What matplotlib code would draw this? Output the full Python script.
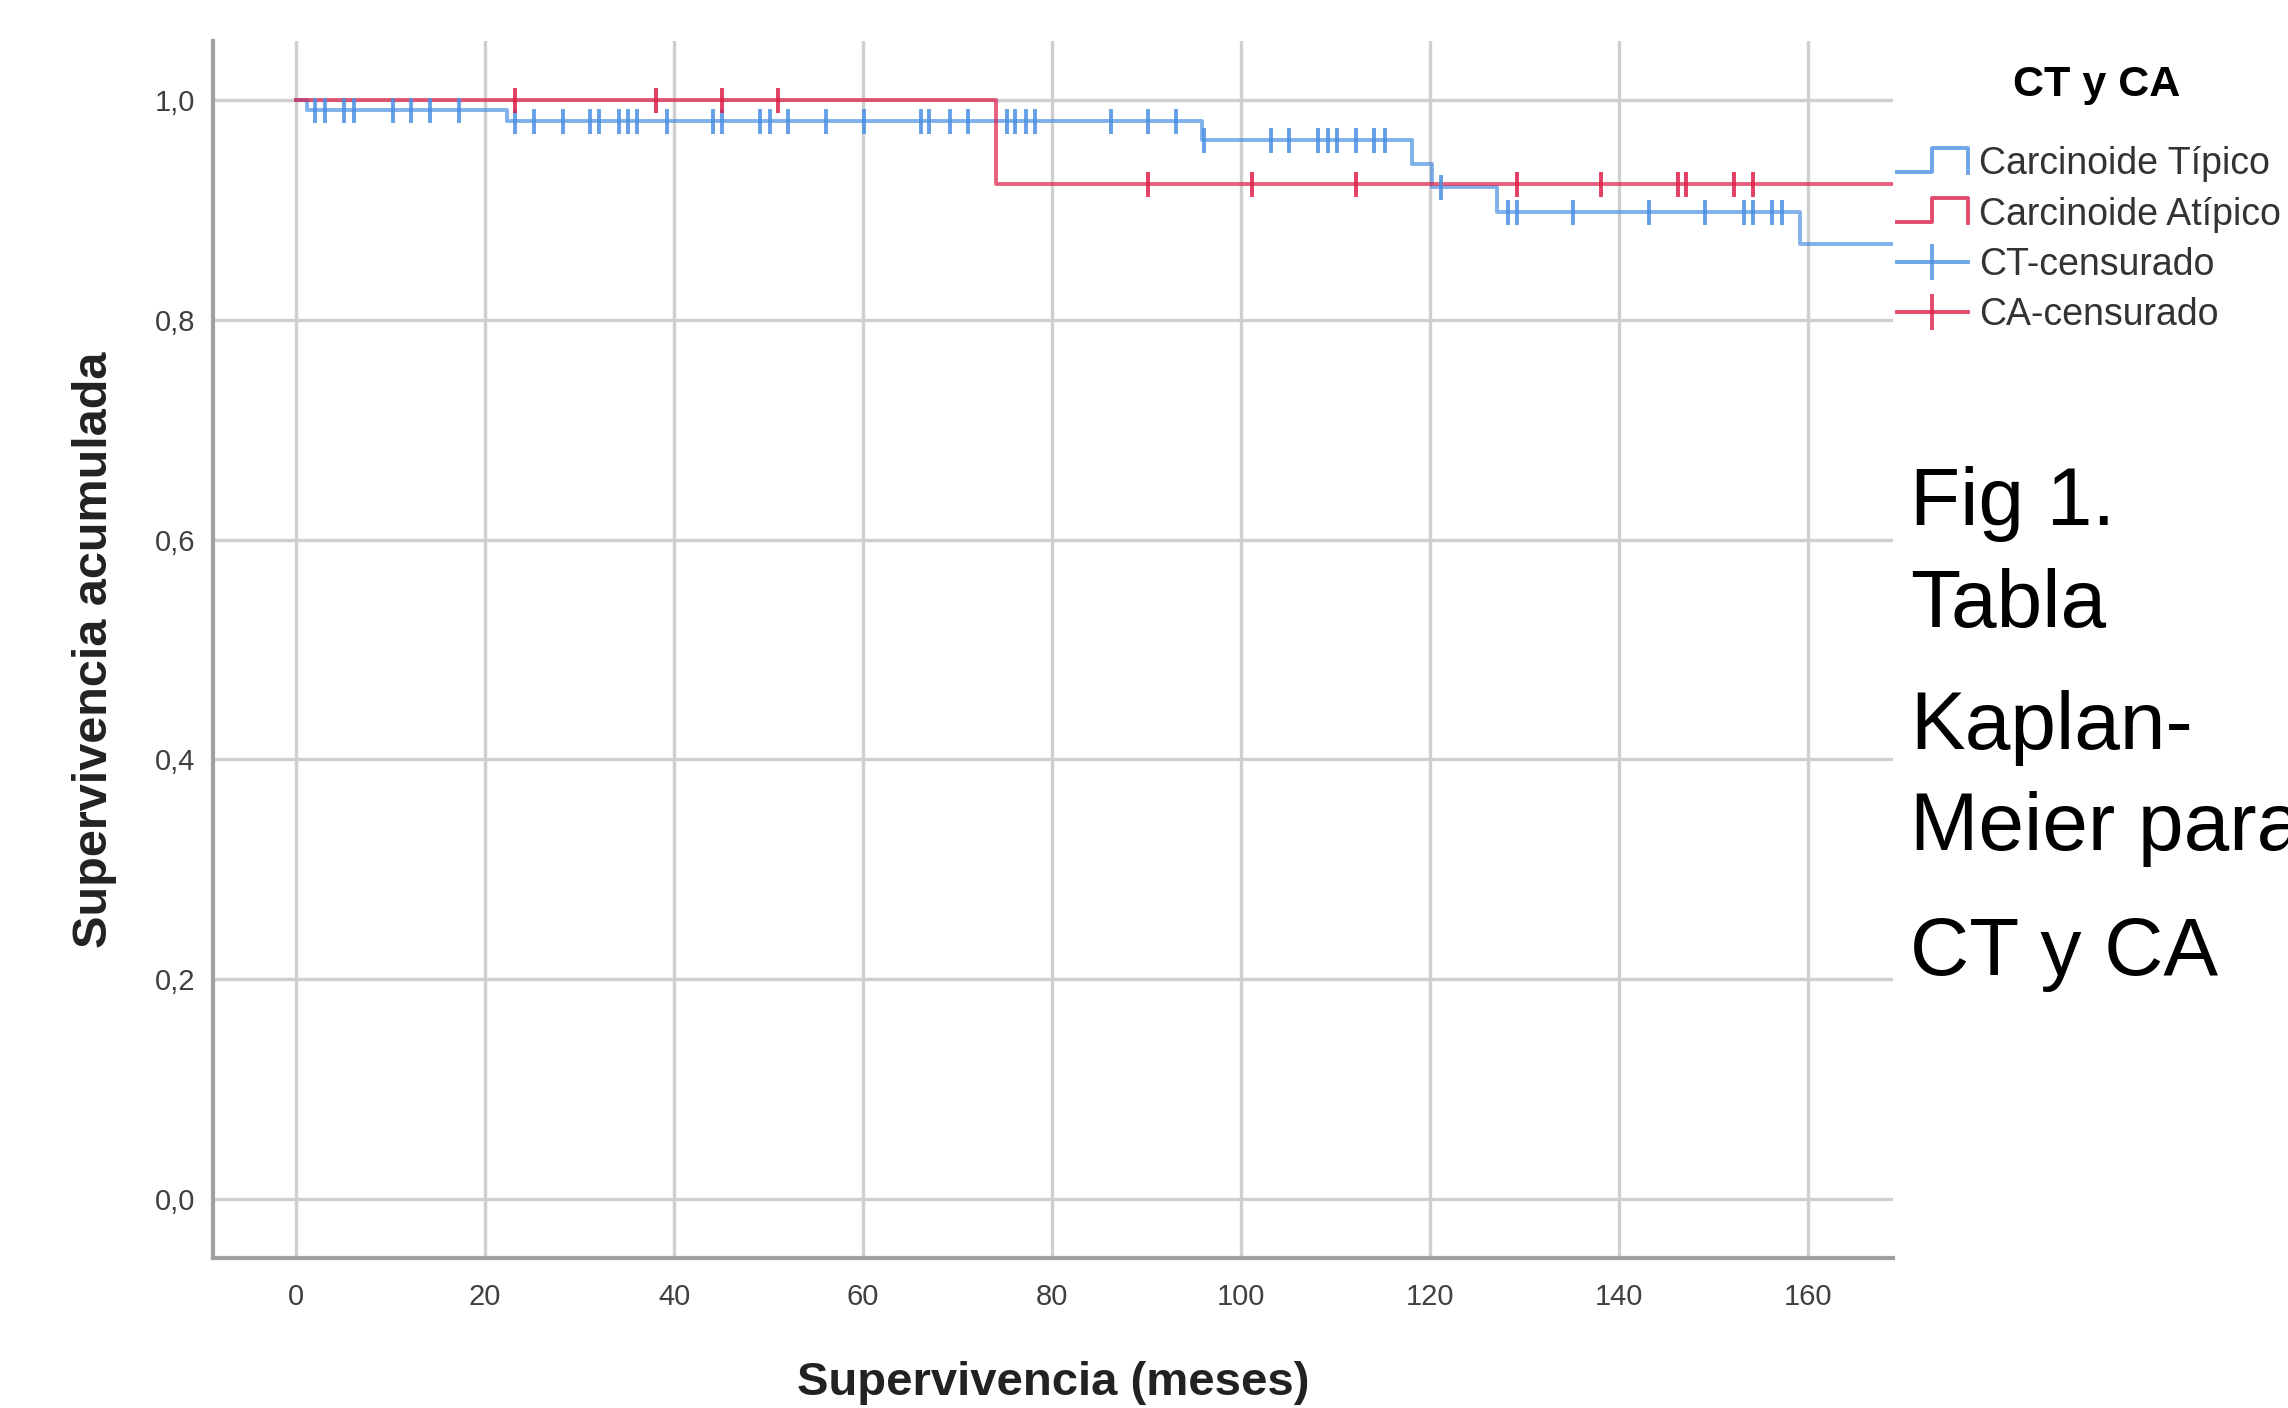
import numpy as np
import matplotlib
matplotlib.use('Agg')
import matplotlib.pyplot as plt
from matplotlib.lines import Line2D
from matplotlib.legend_handler import HandlerBase

plt.rcParams['font.family'] = ['Liberation Sans', 'DejaVu Sans']

# Kaplan-Meier data
ct_times = [0, 1.1, 22.3, 95.9, 118.1, 120.2, 127.1, 159.2]
ct_surv = [1.0, 0.991, 0.981, 0.964, 0.942, 0.921, 0.898, 0.869]
ca_times = [0, 74.1]
ca_surv = [1.0, 0.924]
t_end = 169

ct_censored = [2.0, 3.1, 5.1, 6.1, 10.2, 12.1, 14.2, 17.2, 23.2, 25.2, 28.2, 31.1,
               32.1, 34.2, 35.1, 36.1, 39.2, 44.1, 45.1, 49.1, 50.1, 52.1, 56.1,
               60.1, 66.1, 67.0, 69.2, 71.1, 75.2, 76.1, 77.2, 78.2, 86.2, 90.1,
               93.1, 96.1, 103.2, 105.1, 108.1, 109.2, 110.2, 112.2, 114.1, 115.2,
               121.2, 128.2, 129.2, 135.1, 143.2, 149.1, 153.2, 154.2, 156.2, 157.2]
ca_censored = [23.2, 38.1, 45.1, 51.0, 90.1, 101.2, 112.2, 129.2, 138.1, 146.2,
               147.1, 152.2, 154.2]

labels = ['Carcinoide Típico', 'Carcinoide Atípico', 'CT-censurado', 'CA-censurado']
legend_title = 'CT y CA'
side_text = ['Fig 1.', 'Tabla', 'Kaplan-', 'Meier para', 'CT y CA']
side_y = [0.627, 0.555, 0.468, 0.396, 0.3075]

blue = '#4a90e2'
red = '#dc1e48'


def surv_at(times, surv, t):
    idx = np.searchsorted(times, t, side='right') - 1
    return np.array(surv)[idx]


fig = plt.figure(figsize=(22.88, 14.08), dpi=100)
ax = fig.add_axes([0.0931, 0.1065, 0.7343, 0.8644])

for times, surv, cens, col in [(ct_times, ct_surv, ct_censored, blue),
                               (ca_times, ca_surv, ca_censored, red)]:
    ax.step(np.append(times, t_end), np.append(surv, surv[-1]), where='post',
            color=col, lw=2.8, alpha=0.7, zorder=3)
    ax.plot(cens, surv_at(times, surv, cens), ls='none', marker='|',
            ms=18, mew=2.8, color=col, alpha=0.85, zorder=4)

ax.set_xlim(-8.8, t_end)
ax.set_ylim(-0.054, 1.054)
ax.set_xticks(np.arange(0, 161, 20))
ax.set_yticks(np.arange(0, 1.01, 0.2))
ax.set_yticklabels([('%.1f' % v).replace('.', ',') for v in np.arange(0, 1.01, 0.2)])
ax.grid(True, color='#cfcfcf', lw=2.4)
ax.set_axisbelow(True)
ax.tick_params(length=0, labelsize=21, labelcolor='#404040')
ax.tick_params(axis='x', pad=18)
ax.tick_params(axis='y', pad=13)
for s in ['top', 'right']:
    ax.spines[s].set_visible(False)
for s in ['left', 'bottom']:
    ax.spines[s].set_color('#a0a0a0')
    ax.spines[s].set_linewidth(3)

ax.set_xlabel('Supervivencia (meses)', fontsize=34, fontweight='bold', color='#222222')
ax.set_ylabel('Supervivencia acumulada', fontsize=35, fontweight='bold', color='#222222')
ax.xaxis.set_label_coords(0.5, -0.085)
ax.yaxis.set_label_coords(-0.057, 0.5)


class StepHandler(HandlerBase):
    def create_artists(self, legend, orig_handle, xdescent, ydescent,
                       width, height, fontsize, trans):
        x0, y0 = -xdescent, -ydescent
        xs = [x0, x0 + 0.5 * width, x0 + 0.5 * width, x0 + width, x0 + width]
        ys = [y0 + 0.1 * height, y0 + 0.1 * height, y0 + 1.0 * height,
              y0 + 1.0 * height, y0 + 0.05 * height]
        ln = Line2D(xs, ys, color=orig_handle.get_color(),
                    lw=orig_handle.get_linewidth(), alpha=0.8)
        ln.set_transform(trans)
        return [ln]


h_ct = Line2D([], [], color=blue, lw=2.8)
h_ca = Line2D([], [], color=red, lw=2.8)
h_ctc = Line2D([], [], color=blue, lw=2.8, marker='|', ms=26, mew=2.8, alpha=0.8)
h_cac = Line2D([], [], color=red, lw=2.8, marker='|', ms=26, mew=2.8, alpha=0.8)
leg = fig.legend([h_ct, h_ca, h_ctc, h_cac], labels, loc='upper left',
                 bbox_to_anchor=(0.829, 0.896), frameon=False, fontsize=27,
                 handlelength=1.9, handletextpad=0.3, labelspacing=0.38,
                 borderpad=0, borderaxespad=0, numpoints=1,
                 handler_map={h_ct: StepHandler(), h_ca: StepHandler()})
for t in leg.get_texts():
    t.set_color('#333333')
fig.text(0.9165, 0.9396, legend_title, fontsize=31, fontweight='bold',
         ha='center', va='center', color='black')

for txt, y in zip(side_text, side_y):
    fig.text(0.835, y, txt, fontsize=59, va='baseline', ha='left', color='black')

fig.savefig('out.png', dpi=100)
